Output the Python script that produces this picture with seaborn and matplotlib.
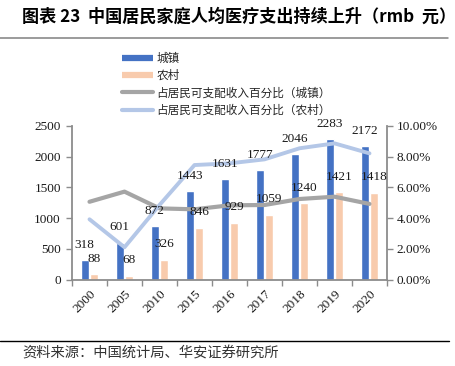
import numpy as np
import pandas as pd
import matplotlib
matplotlib.use("Agg")
import matplotlib.pyplot as plt
import seaborn as sns
from matplotlib.lines import Line2D

# ---------------- data ----------------
years = ["2000", "2005", "2010", "2015", "2016", "2017", "2018", "2019", "2020"]
urban_spend = [318, 601, 872, 1443, 1631, 1777, 2046, 2283, 2172]
rural_spend = [88, 68, 326, 846, 929, 1059, 1240, 1421, 1418]
urban_pct = [5.07, 5.73, 4.64, 4.58, 4.84, 4.86, 5.25, 5.40, 4.93]
rural_pct = [3.93, 2.11, 4.86, 7.46, 7.57, 7.83, 8.55, 8.87, 8.22]
bar_names = ["城镇", "农村"]
line_names = ["占居民可支配收入百分比（城镇）", "占居民可支配收入百分比（农村）"]
left_ticks = [0, 500, 1000, 1500, 2000, 2500]
right_ticks = [0, 2, 4, 6, 8, 10]
title = "图表 23  中国居民家庭人均医疗支出持续上升（rmb  元）"
source = "资料来源：中国统计局、华安证券研究所"

# ---------------- style ----------------
BLUE = "#4472C4"
ORANGE = "#F8CBAD"
GRAY = "#A5A5A5"
LBLUE = "#B4C7E7"
AXC = "#8C8C8C"
NUMFONT = "Liberation Serif"

sns.set_theme(style="white")
plt.rcParams['font.family'] = ['Noto Sans CJK SC', 'DejaVu Sans']

W, H = 456, 366
fig = plt.figure(figsize=(W / 100, H / 100), dpi=100)
ax = fig.add_axes([72 / W, 1 - 279.7 / H, 315 / W, (279.7 - 126) / H])

df_bar = pd.DataFrame({
    "year": years * 2,
    "value": urban_spend + rural_spend,
    "type": [bar_names[0]] * len(years) + [bar_names[1]] * len(years),
})
sns.barplot(data=df_bar, x="year", y="value", hue="type", hue_order=bar_names,
            palette=[BLUE, ORANGE], saturation=1, width=0.55, gap=0.15,
            legend=False, ax=ax)
ax.set_xlim(-0.5, len(years) - 0.5)
ax.set_ylim(left_ticks[0], left_ticks[-1])

ax2 = ax.twinx()
df_line = pd.DataFrame({
    "pos": np.arange(len(years)),
    "urban": urban_pct,
    "rural": rural_pct,
})
sns.lineplot(data=df_line, x="pos", y="urban", color=GRAY, lw=3.0, ax=ax2)
sns.lineplot(data=df_line, x="pos", y="rural", color=LBLUE, lw=2.8, ax=ax2)
ax2.set_ylim(right_ticks[0], right_ticks[-1])
ax2.set_xlim(-0.5, len(years) - 0.5)

# data labels
for cont, vals in zip(ax.containers, [urban_spend, rural_spend]):
    for bar, v in zip(cont, vals):
        ax2.annotate(str(v), xy=(bar.get_x() + bar.get_width() / 2, bar.get_height()),
                     xycoords=ax.transData, xytext=(0, 11), textcoords="offset points",
                     ha="center", va="center", fontfamily=NUMFONT, fontsize=9.5,
                     color="#1a1a1a", zorder=10)

# axes styling
for a in (ax, ax2):
    a.set_xlabel("")
    a.set_ylabel("")
    a.spines["top"].set_visible(False)
ax.spines["right"].set_visible(False)
for s in ("left", "bottom"):
    ax.spines[s].set_color(AXC)
    ax.spines[s].set_linewidth(1.3)
    ax2.spines[s].set_visible(False)
ax2.spines["right"].set_color(AXC)
ax2.spines["right"].set_linewidth(1.3)

ax.set_yticks(left_ticks)
ax.set_yticklabels([str(t) for t in left_ticks], fontfamily=NUMFONT, fontsize=9.5, color="#1a1a1a")
ax.tick_params(axis="y", which="major", left=True, length=4, width=1, color=AXC, pad=4)
ax2.set_yticks(right_ticks)
ax2.set_yticklabels([f"{t:.2f}%" for t in right_ticks], fontfamily=NUMFONT, fontsize=9.5, color="#1a1a1a")
ax2.tick_params(axis="y", which="major", right=True, length=4, width=1, color=AXC, pad=3)

ax.set_xticks(np.arange(len(years)))
ax.set_xticklabels(years, rotation=45, ha="right", va="top", rotation_mode="anchor",
                   fontfamily=NUMFONT, fontsize=9.5, color="#1a1a1a")
ax.set_xticks(np.arange(-0.5, len(years)), minor=True)
ax.tick_params(axis="x", which="major", bottom=False, length=0, pad=6)
ax.tick_params(axis="x", which="minor", bottom=True, length=4, width=1, color=AXC)
ax2.tick_params(axis="x", which="both", bottom=False, top=False, labelbottom=False)

# legend
handles = [
    Line2D([], [], color=BLUE, lw=4.5, solid_capstyle="butt"),
    Line2D([], [], color=ORANGE, lw=4.5, solid_capstyle="butt"),
    Line2D([], [], color=GRAY, lw=3, solid_capstyle="round"),
    Line2D([], [], color=LBLUE, lw=3, solid_capstyle="round"),
]
fig.legend(handles, bar_names + line_names, loc="upper left",
           bbox_to_anchor=(122 / W, 1 - 52 / H), frameon=False, fontsize=8.4,
           handlelength=2.65, handletextpad=0.3, labelspacing=0.36,
           borderpad=0, borderaxespad=0)

# title, rules, source
fig.text(22 / W, 1 - 17 / H, title, fontsize=12.3, fontweight="bold", ha="left", va="center",
         color="#000000")
fig.add_artist(Line2D([0, 448 / W], [1 - 37.5 / H] * 2, color="#808080", lw=1.1,
                      transform=fig.transFigure))
fig.add_artist(Line2D([0, 449 / W], [1 - 341 / H] * 2, color="#000000", lw=1.0,
                      transform=fig.transFigure))
fig.text(22 / W, 1 - 353 / H, source, fontsize=10.3, ha="left", va="center", color="#333333")

fig.savefig("out.png", dpi=100)
